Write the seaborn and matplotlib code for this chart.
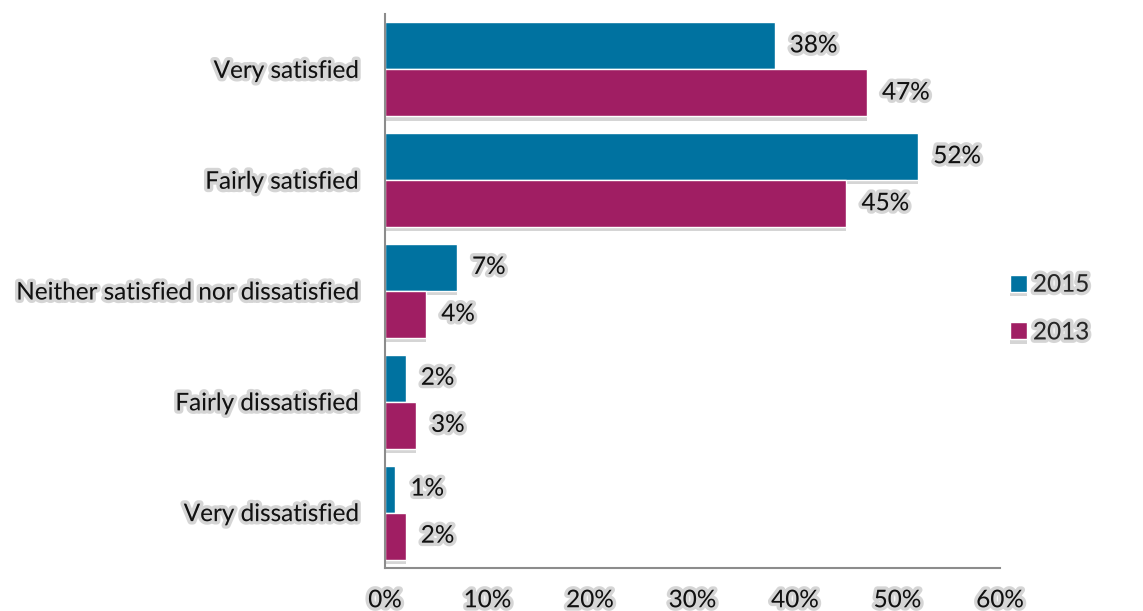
import matplotlib
matplotlib.use("Agg")
import matplotlib.pyplot as plt
import matplotlib.patheffects as pe
import seaborn as sns
import pandas as pd

categories = ["Very satisfied", "Fairly satisfied", "Neither satisfied nor dissatisfied",
              "Fairly dissatisfied", "Very dissatisfied"]
values_2015 = [38, 52, 7, 2, 1]
values_2013 = [47, 45, 4, 3, 2]
years = ["2015", "2013"]
xtick_values = [0, 10, 20, 30, 40, 50, 60]
xtick_labels = ["0%", "10%", "20%", "30%", "40%", "50%", "60%"]

df = pd.DataFrame({
    "category": categories * 2,
    "year": [years[0]] * len(categories) + [years[1]] * len(categories),
    "value": values_2015 + values_2013,
})

sns.set_theme(style="white")
plt.rcParams["font.family"] = ["Lato", "DejaVu Sans"]
FS = 17.5

fig = plt.figure(figsize=(11.43, 6.11), dpi=100)
ax = fig.add_axes([385 / 1143, 1 - 568 / 611, (1000 - 385) / 1143, (568 - 14) / 611])

palette = {"2015": "#0072A0", "2013": "#A01E63"}
sns.barplot(data=df, x="value", y="category", hue="year", order=categories,
            hue_order=years, palette=palette, width=0.85, saturation=1,
            orient="h", ax=ax, legend=True)

glow = [pe.withStroke(linewidth=5, foreground="#c4c4c4", alpha=0.7)]
shadow = [pe.SimplePatchShadow(offset=(0, -3), shadow_rgbFace="#888888", alpha=0.35), pe.Normal()]

for patch in ax.patches:
    patch.set_path_effects(shadow)

for cont in ax.containers:
    labels = ax.bar_label(cont, labels=[f"{v:.0f}%" for v in cont.datavalues],
                          padding=11, fontsize=FS, color="#111111")
    for t in labels:
        t.set_path_effects(glow)

ax.set_xlim(0, 60)
ax.set_ylim(4.5, -0.5)
ax.set_xticks(xtick_values)
ax.set_xticklabels(xtick_labels)
ax.set_xlabel("")
ax.set_ylabel("")
ax.tick_params(axis="x", length=0, pad=16, labelsize=FS, labelcolor="#111111")
ax.tick_params(axis="y", length=0, pad=19, labelsize=FS, labelcolor="#111111")
for t in ax.get_xticklabels() + ax.get_yticklabels():
    t.set_path_effects(glow)

for s in ["top", "right"]:
    ax.spines[s].set_visible(False)
for s in ["left", "bottom"]:
    ax.spines[s].set_color("#8c8c8c")
    ax.spines[s].set_linewidth(1.5)

leg = ax.legend(loc="center left", bbox_to_anchor=(1.016, 0.4675), frameon=False,
                fontsize=FS, handlelength=0.7, handleheight=0.7, handletextpad=0.25,
                labelspacing=1.1, borderpad=0, borderaxespad=0)
for t in leg.get_texts():
    t.set_path_effects(glow)

fig.savefig("out.png", dpi=100)
